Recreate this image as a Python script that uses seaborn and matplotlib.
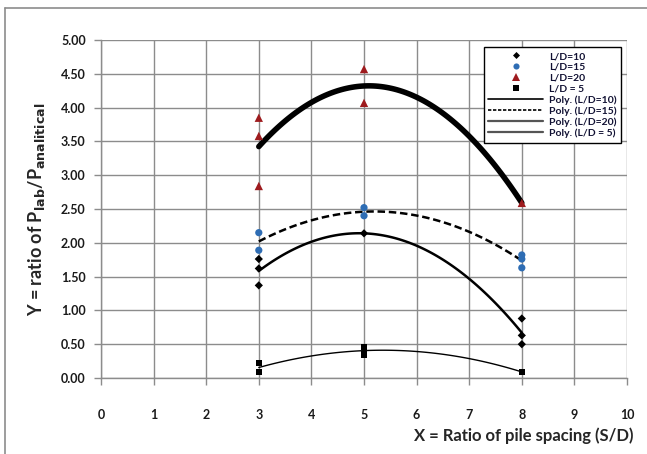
import numpy as np
import pandas as pd
import matplotlib
matplotlib.use("Agg")
import matplotlib.pyplot as plt
from matplotlib.lines import Line2D
import seaborn as sns

# Measured load ratios for each pile length ratio (S/D = 3, 5, 8)
x_ld10 = [3, 3, 3, 5, 8, 8, 8]
y_ld10 = [1.76, 1.62, 1.37, 2.14, 0.88, 0.63, 0.50]

x_ld15 = [3, 3, 5, 5, 8, 8, 8]
y_ld15 = [2.15, 1.89, 2.52, 2.40, 1.82, 1.76, 1.63]

x_ld20 = [3, 3, 3, 5, 5, 8]
y_ld20 = [3.85, 3.58, 2.84, 4.57, 4.07, 2.59]

x_ld5 = [3, 3, 5, 5, 8]
y_ld5 = [0.22, 0.09, 0.46, 0.35, 0.09]

series_names = ["L/D=10", "L/D=15", "L/D=20", "L/D = 5"]
trend_names = ["Poly. (L/D=10)", "Poly. (L/D=15)", "Poly. (L/D=20)", "Poly. (L/D = 5)"]
x_ticks = list(range(0, 11))
y_ticks = [0.0, 0.5, 1.0, 1.5, 2.0, 2.5, 3.0, 3.5, 4.0, 4.5, 5.0]

sns.set_style("white")
plt.rcParams["font.family"] = ["Lato", "DejaVu Sans"]
plt.rcParams["mathtext.default"] = "bf"

frames = []
for name, xs, ys in zip(series_names,
                        [x_ld10, x_ld15, x_ld20, x_ld5],
                        [y_ld10, y_ld15, y_ld20, y_ld5]):
    frames.append(pd.DataFrame({"S/D": xs, "ratio": ys, "series": name}))
df = pd.concat(frames, ignore_index=True)

colors = {"L/D=10": "#000000", "L/D=15": "#2E6DB4", "L/D=20": "#9E1B1E", "L/D = 5": "#000000"}
markers = {"L/D=10": "D", "L/D=15": "o", "L/D=20": "^", "L/D = 5": "s"}
msizes = {"L/D=10": 4.2, "L/D=15": 5.2, "L/D=20": 6, "L/D = 5": 4.6}

fig = plt.figure(figsize=(6.47, 4.54), dpi=100)
ax = fig.add_axes([0.1561, 0.1674, 0.9691 - 0.1561, 0.9119 - 0.1674])

# Second-order polynomial trendlines
line_styles = {
    "L/D=10": dict(color="black", lw=1.8, ls="-"),
    "L/D=15": dict(color="black", lw=1.8, ls=(0, (3, 1.5))),
    "L/D=20": dict(color="black", lw=4.0, ls="-"),
    "L/D = 5": dict(color="black", lw=1.0, ls="-"),
}
for name in series_names:
    sub = df[df["series"] == name]
    sns.regplot(data=sub, x="S/D", y="ratio", order=2, ci=None, scatter=False,
                truncate=True, ax=ax, line_kws=line_styles[name])

# Measured points
for name in series_names:
    sub = df[df["series"] == name]
    sns.scatterplot(data=sub, x="S/D", y="ratio", ax=ax, color=colors[name],
                    marker=markers[name], s=msizes[name] ** 2, edgecolor="none",
                    zorder=5, legend=False)

ax.set_xlim(0, 10)
ax.set_ylim(0, 5)
ax.set_xticks(x_ticks)
ax.set_yticks(y_ticks)
ax.set_xticklabels([str(t) for t in x_ticks])
ax.set_yticklabels([f"{t:.2f}" for t in y_ticks])
ax.grid(True, color="#8c8c8c", lw=1.0)
ax.set_axisbelow(True)
for side in ["top", "right"]:
    ax.spines[side].set_visible(False)
for side in ["left", "bottom"]:
    ax.spines[side].set_color("#8c8c8c")
    ax.spines[side].set_linewidth(1.0)
ax.tick_params(axis="both", which="both", length=5, width=1.0, color="#8c8c8c",
               labelsize=9, labelcolor="#1a1a1a")
ax.tick_params(axis="x", pad=17, direction="out", bottom=True)
ax.tick_params(axis="y", pad=6, direction="out", left=True)
for lab in ax.get_xticklabels() + ax.get_yticklabels():
    lab.set_fontweight("bold")

ax.set_xlabel("X = Ratio of pile spacing (S/D)", fontsize=12, fontweight="bold")
ax.xaxis.set_label_coords(1.013, -0.145)
ax.xaxis.label.set_horizontalalignment("right")
ax.set_ylabel(r"Y = ratio of P$_{lab}$/P$_{analitical}$", fontsize=13, fontweight="bold")
ax.yaxis.set_label_coords(-0.102, 0.5)

# Legend
handles = []
for name in series_names:
    handles.append(Line2D([], [], ls="none", marker=markers[name], color=colors[name],
                          markersize=msizes[name] * 0.85, markeredgewidth=0))
legend_lines = [
    dict(color="black", lw=1.2, ls="-"),
    dict(color="black", lw=1.2, ls=(0, (2, 1))),
    dict(color="#555555", lw=1.6, ls="-"),
    dict(color="#555555", lw=1.6, ls="-"),
]
for kw in legend_lines:
    handles.append(Line2D([], [], **kw))
leg = ax.legend(handles, series_names + trend_names, loc="upper right",
                bbox_to_anchor=(0.989, 0.979), frameon=True, fancybox=False,
                edgecolor="black", framealpha=1, prop={"weight": "bold", "size": 7.5},
                handlelength=5.2, handletextpad=0.6, labelspacing=0.15,
                borderpad=0.45, borderaxespad=0)
leg.get_frame().set_linewidth(1.0)
for t in leg.get_texts():
    t.set_color("#111133")

# Outer chart frame
fig.add_artist(Line2D([5 / 647, 5 / 647], [0, 1 - 8 / 454], color="#8c8c8c", lw=1.2,
                      transform=fig.transFigure))
fig.add_artist(Line2D([5 / 647, 1], [1 - 8 / 454, 1 - 8 / 454], color="#8c8c8c", lw=1.2,
                      transform=fig.transFigure))

fig.savefig("out.png", dpi=100)
